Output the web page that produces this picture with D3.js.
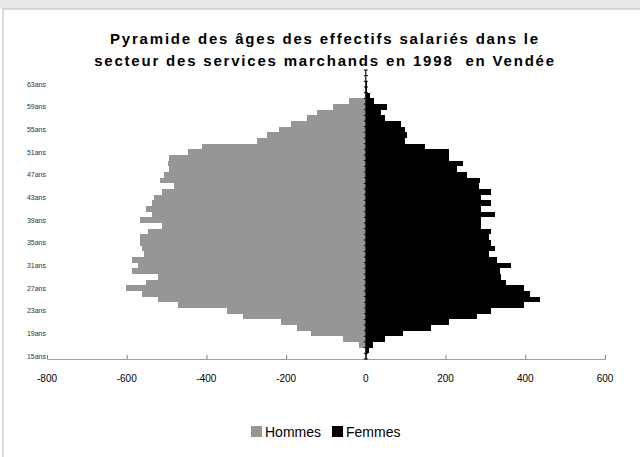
<!DOCTYPE html>
<html>
<head>
<meta charset="utf-8">
<script src="https://cdn.jsdelivr.net/npm/d3@7"></script>
<style>
 body { margin: 0; background: #fff; }
 text { font-family: "Liberation Sans", Arial, sans-serif; }
</style>
</head>
<body>
<div id="chart"></div>
<script>
// ages 15 to 65
var ages = d3.range(15, 66);

// number of employees per age (men shown as negative values)
var hommes = [-1, -3, -18, -58, -138, -173, -213, -308, -348, -471,
  -521, -561, -601, -551, -521, -586, -571, -586, -556, -561,
  -566, -566, -546, -511, -566, -536, -551, -536, -531, -511,
  -481, -516, -506, -495, -497, -495, -445, -410, -272, -247,
  -217, -187, -147, -122, -82, -42, -3, -2, -1, -1, -1];

var femmes = [2, 8, 18, 48, 93, 163, 208, 278, 313, 396,
  436, 411, 396, 351, 338, 336, 363, 328, 308, 323,
  313, 308, 313, 288, 288, 323, 288, 313, 288, 313,
  283, 287, 253, 228, 243, 208, 208, 148, 98, 103,
  98, 88, 48, 38, 53, 20, 10, 3, 2, 1, 1];

var xTicks = [-800, -600, -400, -200, 0, 200, 400, 600];
var ageLabels = [15, 19, 23, 27, 31, 35, 39, 43, 47, 51, 55, 59, 63];

var titleLines = ["Pyramide des âges des effectifs salariés dans le",
  "secteur des services marchands en 1998  en Vendée"];

var W = 640, H = 457;

var svg = d3.select("#chart").append("svg")
  .attr("width", W)
  .attr("height", H);

// chart area frame
svg.append("rect")
  .attr("x", 0).attr("y", 0).attr("width", W).attr("height", 9)
  .attr("fill", "#e9e9e9");
svg.append("rect")
  .attr("x", 3).attr("y", 9).attr("width", W).attr("height", H)
  .attr("fill", "#fff")
  .attr("stroke", "#d0d0d0")
  .attr("stroke-width", 1.5);

// scales
var x = d3.scaleLinear().domain([-800, 600]).range([47, 605]);
var y = d3.scaleBand().domain(ages).range([359, 70]).padding(0);

var rows = ages.map(function (a, i) {
  return { age: a, h: hommes[i], f: femmes[i] };
});

// men bars
svg.append("g").selectAll("rect")
  .data(rows)
  .enter().append("rect")
  .attr("x", function (d) { return x(d.h); })
  .attr("y", function (d) { return y(d.age); })
  .attr("width", function (d) { return x(0) - x(d.h); })
  .attr("height", y.bandwidth())
  .attr("fill", "#969696")
  .attr("shape-rendering", "crispEdges");

// women bars
svg.append("g").selectAll("rect")
  .data(rows)
  .enter().append("rect")
  .attr("x", x(0))
  .attr("y", function (d) { return y(d.age); })
  .attr("width", function (d) { return x(d.f) - x(0); })
  .attr("height", y.bandwidth())
  .attr("fill", "#000")
  .attr("shape-rendering", "crispEdges");

// x axis, ticks inside
var xAxis = svg.append("g")
  .attr("transform", "translate(0,359)")
  .call(d3.axisTop(x).tickValues(xTicks).tickSize(4).tickFormat(""));
xAxis.select(".domain").attr("stroke", "#a0a0a0");
xAxis.selectAll(".tick line").attr("stroke", "#808080");

svg.append("g").selectAll("text")
  .data(xTicks)
  .enter().append("text")
  .attr("x", function (d) { return x(d); })
  .attr("y", 382)
  .attr("text-anchor", "middle")
  .attr("font-size", 10)
  .attr("fill", "#000")
  .text(function (d) { return d; });

// vertical axis at zero
var yAxis = svg.append("g");
yAxis.append("line")
  .attr("x1", x(0)).attr("x2", x(0))
  .attr("y1", 70).attr("y2", 359)
  .attr("stroke", "#000");
yAxis.selectAll(".tk")
  .data(ages.concat([66]))
  .enter().append("line")
  .attr("x1", x(0) - 2).attr("x2", x(0) + 2)
  .attr("y1", function (d) { return d === 66 ? 70 : y(d) + y.bandwidth(); })
  .attr("y2", function (d) { return d === 66 ? 70 : y(d) + y.bandwidth(); })
  .attr("stroke", "#000");

// age labels
svg.append("g").selectAll("text")
  .data(ageLabels)
  .enter().append("text")
  .attr("x", 46)
  .attr("y", function (d) { return y(d) + y.bandwidth() / 2 + 2.5; })
  .attr("text-anchor", "end")
  .attr("font-size", 7)
  .attr("fill", "#333")
  .text(function (d) { return d + "ans"; });

// title
svg.append("g").selectAll("text")
  .data(titleLines)
  .enter().append("text")
  .attr("x", 325)
  .attr("y", function (d, i) { return 44 + i * 22; })
  .attr("text-anchor", "middle")
  .attr("font-size", 15)
  .attr("font-weight", "bold")
  .attr("letter-spacing", 1.8)
  .style("white-space", "pre")
  .text(function (d) { return d; });

// legend
var legend = svg.append("g").attr("transform", "translate(251,431)");
var legItems = [
  { name: "Hommes", color: "#969696", dx: 0 },
  { name: "Femmes", color: "#000", dx: 81 }
];
var li = legend.selectAll("g")
  .data(legItems)
  .enter().append("g")
  .attr("transform", function (d) { return "translate(" + d.dx + ",0)"; });
li.append("rect")
  .attr("x", 0).attr("y", -5)
  .attr("width", 11).attr("height", 11)
  .attr("fill", function (d) { return d.color; });
li.append("text")
  .attr("x", 14).attr("y", 5.5)
  .attr("font-size", 14)
  .text(function (d) { return d.name; });
</script>
</body>
</html>
